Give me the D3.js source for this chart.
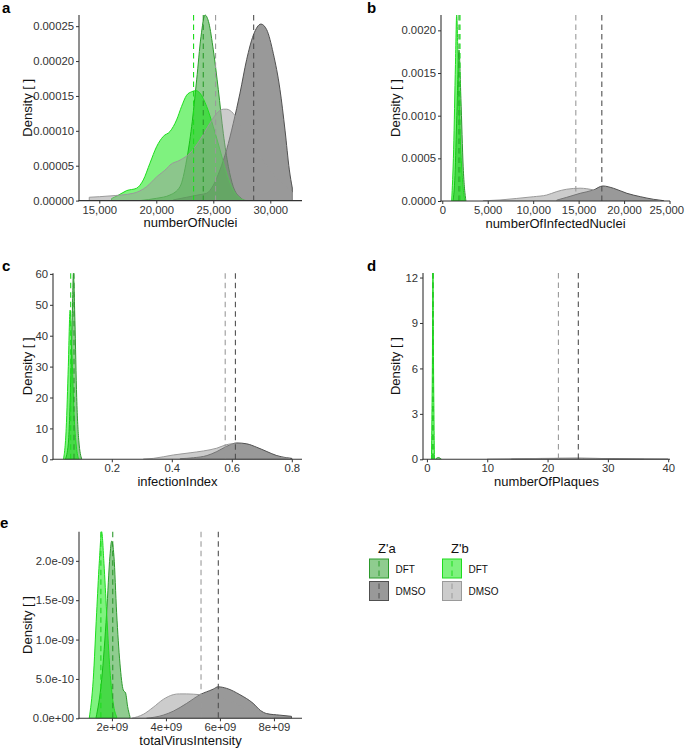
<!DOCTYPE html>
<html><head><meta charset="utf-8">
<script src="https://cdn.jsdelivr.net/npm/d3@7"></script>
<style>
html,body{margin:0;padding:0;background:#fff;}
svg{display:block;font-family:"Liberation Sans",Arial,Helvetica,sans-serif;}
</style></head>
<body><svg id="c" width="685" height="749"></svg>
<script>
// ---------- DATA ----------
const groups = ["Z'a DFT", "Z'a DMSO", "Z'b DFT", "Z'b DMSO"];
const legendScreens = ["Z'a", "Z'b"];
const legendTreatments = ["DFT", "DMSO"];

// panel a: numberOfNuclei  [value, density]
const nuclei_ZaDFT = [[18570,0],[20030,3.3e-6],[21200,8e-6],[22080,2.0e-5],[22660,5.8e-5],[23100,1.06e-4],[23540,1.73e-4],[23920,2.35e-4],[24270,2.66e-4],[24620,2.54e-4],[25000,2.16e-4],[25440,1.59e-4],[25880,9.6e-5],[26320,4.9e-5],[26750,2.0e-5],[27340,4.8e-6],[27780,0]];
const nuclei_ZaDMSO = [[21490,1e-6],[22660,4.8e-6],[23830,8.6e-6],[24415,1.05e-5],[25000,2.2e-5],[25585,4.4e-5],[26170,7.3e-5],[26755,1.11e-4],[27340,1.54e-4],[27925,2.02e-4],[28510,2.37e-4],[29180,2.53e-4],[29680,2.45e-4],[30260,2.11e-4],[30850,1.59e-4],[31290,1.01e-4],[31670,4.4e-5],[31930,1.8e-5]];
const nuclei_ZbDFT = [[16080,3e-6],[16600,7e-6],[17400,1.43e-5],[18270,1.77e-5],[18860,2.96e-5],[19440,5.35e-5],[20030,7.74e-5],[20610,9.2e-5],[21200,9.9e-5],[21780,1.156e-4],[22220,1.35e-4],[22660,1.51e-4],[23100,1.56e-4],[23480,1.576e-4],[23830,1.54e-4],[24415,1.35e-4],[25000,1.06e-4],[25590,7.26e-5],[26170,3.9e-5],[26750,1.5e-5],[27340,3.3e-6],[27920,0]];
const nuclei_ZbDMSO = [[14120,4.8e-6],[15940,6.7e-6],[17980,1.05e-5],[19150,2.0e-5],[20030,3.4e-5],[20910,4.6e-5],[21200,5.1e-5],[22080,5.8e-5],[22950,6.8e-5],[23830,8.7e-5],[24710,1.11e-4],[25290,1.25e-4],[25880,1.31e-4],[26170,1.31e-4],[26750,1.25e-4],[27340,1.11e-4],[28220,8.7e-5],[29090,6.3e-5],[29970,4.4e-5],[30850,2.7e-5],[31730,1.5e-5],[31930,1.15e-5]];
const nuclei_means = [24120, 28540, 23270, 25200];

// panel b: numberOfInfectedNuclei
const infected_ZaDFT = [[1180,0],[1400,3e-4],[1600,1.0e-3],[1840,1.77e-3],[2050,1.2e-3],[2300,4e-4],[2600,0]];
const infected_ZaDMSO = [[12590,1e-5],[13690,4.3e-5],[15160,9e-5],[16630,1.29e-4],[17660,1.76e-4],[18840,1.49e-4],[20310,9e-5],[21780,5.1e-5],[23250,1.95e-5],[24350,4e-6]];
const infected_ZbDFT = [[1035,0],[1250,6e-4],[1450,1.6e-3],[1585,2.18e-3],[1750,1.6e-3],[2000,7e-4],[2300,1.5e-4],[2500,0]];
const infected_ZbDMSO = [[4500,2e-6],[6350,1.2e-5],[8190,3e-5],[10020,5e-5],[11490,7e-5],[12590,1.1e-4],[13690,1.38e-4],[15160,1.5e-4],[16630,1.3e-4],[18100,9e-5],[19570,5.9e-5],[21040,3e-5],[22510,1.2e-5],[23980,4e-6]];
const infected_means = [1840, 17550, 1950, 14690];

// panel c: infectionIndex
const index_ZaDFT = [[0.045,0],[0.055,5],[0.063,25],[0.068,45],[0.072,60.2],[0.077,45],[0.083,20],[0.09,6],[0.1,0]];
const index_ZaDMSO = [[0.428,0.2],[0.472,0.5],[0.517,1.2],[0.55,2.5],[0.583,4.2],[0.617,5.3],[0.65,5.0],[0.683,3.9],[0.717,2.5],[0.75,1.2],[0.783,0.5],[0.8,0.3]];
const index_ZbDFT = [[0.039,0],[0.048,10],[0.055,30],[0.061,48.3],[0.067,35],[0.074,15],[0.082,4],[0.09,0]];
const index_ZbDMSO = [[0.305,0.05],[0.339,0.3],[0.405,1.4],[0.461,2.1],[0.505,2.7],[0.55,3.6],[0.578,4.6],[0.6,5.0],[0.628,4.6],[0.672,3.0],[0.717,1.4],[0.761,0.6],[0.794,0.2]];
const index_means = [0.074, 0.612, 0.063, 0.578];

// panel d: numberOfPlaques
const plaques_ZaDFT = [[1.4,0],[1.9,0.12],[2.4,0]];
const plaques_ZaDMSO = [[14,0.005],[18,0.03],[22,0.06],[25,0.075],[28,0.06],[32,0.03],[36,0.01],[40,0.003]];
const plaques_ZbDFT = [[0.75,0],[0.9,6],[1.0,12.3],[1.1,6],[1.25,0]];
const plaques_ZbDMSO = [[10,0.005],[15,0.03],[19,0.06],[22,0.07],[26,0.05],[31,0.02],[36,0.003]];
const plaques_means = [1.0, 25.1, 1.0, 21.8];

// panel e: totalVirusIntensity
const intensity_ZaDFT = [[1.407e9,0],[1.619e9,0.49e-9],[1.804e9,1.34e-9],[1.926e9,2.06e-9],[1.989e9,2.25e-9],[2.074e9,2.06e-9],[2.174e9,1.34e-9],[2.296e9,0.7e-9],[2.419e9,0.36e-9],[2.507e9,0.32e-9],[2.581e9,0.15e-9],[2.667e9,0.02e-9]];
const intensity_ZaDMSO = [[3.28e9,0],[3.9e9,0.04e-9],[4.27e9,0.09e-9],[4.77e9,0.19e-9],[5.26e9,0.30e-9],[5.75e9,0.37e-9],[5.93e9,0.40e-9],[6.25e9,0.38e-9],[6.74e9,0.30e-9],[7.23e9,0.19e-9],[7.5e9,0.10e-9],[7.73e9,0.06e-9],[8.22e9,0.04e-9],[8.65e9,0.025e-9]];
const intensity_ZbDFT = [[1.159e9,0],[1.307e9,0.49e-9],[1.433e9,1.34e-9],[1.53e9,1.97e-9],[1.619e9,2.37e-9],[1.704e9,1.97e-9],[1.804e9,1.34e-9],[1.926e9,0.61e-9],[2.048e9,0.19e-9],[2.174e9,0.02e-9]];
const intensity_ZbDMSO = [[2.73e9,0],[3.16e9,0.05e-9],[3.53e9,0.14e-9],[3.9e9,0.24e-9],[4.27e9,0.30e-9],[4.5e9,0.31e-9],[4.77e9,0.31e-9],[5.26e9,0.30e-9],[5.75e9,0.29e-9],[6.25e9,0.24e-9],[6.74e9,0.16e-9],[7.23e9,0.07e-9],[7.73e9,0.02e-9],[8.0e9,0.005e-9]];
const intensity_means = [2.03e9, 5.94e9, 1.59e9, 5.30e9];

// axis limits and ticks
const nuclei_xlim = [13220, 32780], nuclei_ylim = [0, 0.000266];
const nuclei_xticks = [15000, 20000, 25000, 30000];
const nuclei_yticks = [0, 0.00005, 0.0001, 0.00015, 0.0002, 0.00025];
const infected_xlim = [-140, 25050], infected_ylim = [0, 0.00218];
const infected_xticks = [0, 5000, 10000, 15000, 20000, 25000];
const infected_yticks = [0, 0.0005, 0.001, 0.0015, 0.002];
const index_xlim = [0.004, 0.834], index_ylim = [0, 60.2];
const index_xticks = [0.2, 0.4, 0.6, 0.8];
const index_yticks = [0, 10, 20, 30, 40, 50, 60];
const plaques_xlim = [-0.65, 40.3], plaques_ylim = [0, 12.3];
const plaques_xticks = [0, 10, 20, 30, 40];
const plaques_yticks = [0, 3, 6, 9, 12];
const intensity_xlim = [0.78e9, 9.04e9], intensity_ylim = [0, 2.37e-9];
const intensity_xticks = [2e9, 4e9, 6e9, 8e9];
const intensity_yticks = [0, 5e-10, 1e-9, 1.5e-9, 2e-9];
const intensity_xlabels = ["2e+09", "4e+09", "6e+09", "8e+09"];
const intensity_ylabels = ["0.0e+00", "5.0e-10", "1.0e-09", "1.5e-09", "2.0e-09"];

// ---------- STYLE / LAYOUT ----------
const colors = ["#1f9a1f", "#333333", "#00e600", "#999999"];
const strokes = ["#2c9a2c", "#505050", "#1edc1e", "#9a9a9a"];
const fmtComma = d3.format(",");
const panels = [
  {tag:"a", title:"numberOfNuclei", series:[nuclei_ZaDFT,nuclei_ZaDMSO,nuclei_ZbDFT,nuclei_ZbDMSO], means:nuclei_means,
   xlim:nuclei_xlim, ylim:nuclei_ylim, xt:nuclei_xticks, yt:nuclei_yticks, xf:fmtComma, yf:d3.format(".5f"),
   box:[79,302,15,200.6], tagPos:[2,13], ytx:27},
  {tag:"b", title:"numberOfInfectedNuclei", series:[infected_ZaDFT,infected_ZaDMSO,infected_ZbDFT,infected_ZbDMSO], means:infected_means,
   xlim:infected_xlim, ylim:infected_ylim, xt:infected_xticks, yt:infected_yticks, xf:fmtComma, yf:d3.format(".4f"),
   box:[441,670,15,201], tagPos:[367,13], ytx:395},
  {tag:"c", title:"infectionIndex", series:[index_ZaDFT,index_ZaDMSO,index_ZbDFT,index_ZbDMSO], means:index_means,
   xlim:index_xlim, ylim:index_ylim, xt:index_xticks, yt:index_yticks, xf:d3.format(".1f"), yf:d3.format("d"),
   box:[53,302,273.3,459.3], tagPos:[2,271], ytx:27},
  {tag:"d", title:"numberOfPlaques", series:[plaques_ZaDFT,plaques_ZaDMSO,plaques_ZbDFT,plaques_ZbDMSO], means:plaques_means,
   xlim:plaques_xlim, ylim:plaques_ylim, xt:plaques_xticks, yt:plaques_yticks, xf:d3.format("d"), yf:d3.format("d"),
   box:[423,670,273,459.3], tagPos:[367,271], ytx:395},
  {tag:"e", title:"totalVirusIntensity", series:[intensity_ZaDFT,intensity_ZaDMSO,intensity_ZbDFT,intensity_ZbDMSO], means:intensity_means,
   xlim:intensity_xlim, ylim:intensity_ylim, xt:intensity_xticks, yt:intensity_yticks,
   xf:(d,i)=>intensity_xlabels[i], yf:(d,i)=>intensity_ylabels[i],
   box:[79,302,531.7,718.3], tagPos:[0,528], ytx:27}
];
const drawOrder = [0,1,2,3];

const svg = d3.select("#c");
const defs = svg.append("defs");

panels.forEach((p, pi) => {
  const [L,R,T,B] = p.box;
  const x = d3.scaleLinear().domain(p.xlim).range([L,R]);
  const y = d3.scaleLinear().domain(p.ylim).range([B,T]);
  const g = svg.append("g");
  defs.append("clipPath").attr("id","clip"+pi).append("rect")
    .attr("x",L).attr("y",T-1).attr("width",R-L).attr("height",B-T+1);
  const plot = g.append("g").attr("clip-path","url(#clip"+pi+")");
  const area = d3.area().x(d=>x(d[0])).y0(y(0)).y1(d=>y(d[1])).curve(d3.curveMonotoneX);
  drawOrder.forEach(k => {
    plot.append("path").datum(p.series[k]).attr("d", area)
      .attr("fill", colors[k]).attr("fill-opacity", 0.5)
      .attr("stroke", strokes[k]).attr("stroke-width", 1);
  });
  drawOrder.forEach(k => {
    plot.append("line").attr("x1", x(p.means[k])).attr("x2", x(p.means[k]))
      .attr("y1", T).attr("y2", B)
      .attr("stroke", strokes[k]).attr("stroke-width", 1.1).attr("stroke-dasharray", "5.5,4");
  });
  // axes
  const xa = g.append("g").attr("transform", `translate(0,${B})`)
    .call(d3.axisBottom(x).tickValues(p.xt).tickFormat(p.xf).tickSizeInner(3).tickSizeOuter(0).tickPadding(2));
  const ya = g.append("g").attr("transform", `translate(${L},0)`)
    .call(d3.axisLeft(y).tickValues(p.yt).tickFormat(p.yf).tickSizeInner(3).tickSizeOuter(0).tickPadding(2));
  [xa, ya].forEach(a => {
    a.select(".domain").remove();
    a.selectAll(".tick line").attr("stroke", "#333").attr("stroke-width", 1);
    a.selectAll(".tick text").attr("fill", "#333").style("font-size", "11.3px").style("font-family", '"Liberation Sans",Arial,sans-serif');
  });
  // keep right-most x label inside the page
  xa.selectAll(".tick text").each(function(){
    const bb = this.getBBox(); const ctm = this.getCTM();
    const right = ctm.e + bb.x + bb.width;
    if (right > 684) d3.select(this).attr("dx", (684 - right) + "px");
  });
  g.append("line").attr("x1",L).attr("x2",L).attr("y1",T).attr("y2",B+0.5).attr("stroke","#333").attr("stroke-width",1.1);
  g.append("line").attr("x1",L-0.5).attr("x2",R).attr("y1",B).attr("y2",B).attr("stroke","#333").attr("stroke-width",1.1);
  // titles
  g.append("text").attr("x", (L+R)/2).attr("y", B+26.5).attr("text-anchor","middle")
    .attr("fill","#111").style("font-size","13px").text(p.title);
  g.append("text").attr("transform", `translate(${p.ytx+5},${(T+B)/2}) rotate(-90)`).attr("text-anchor","middle")
    .attr("fill","#111").style("font-size","13px").text("Density [ ]");
  g.append("text").attr("x", p.tagPos[0]).attr("y", p.tagPos[1]).attr("fill","#000")
    .style("font-size","15px").style("font-weight","bold").text(p.tag);
});

// legend
const lg = svg.append("g");
legendScreens.forEach((s, si) => {
  const x0 = [369.5, 442.5][si];
  lg.append("text").attr("x", x0+8.5).attr("y", 553).attr("fill","#111").style("font-size","13px").text(s);
  legendTreatments.forEach((t, ti) => {
    const k = si*2 + ti;
    const y0 = 559 + ti*22.5;
    lg.append("rect").attr("x", x0).attr("y", y0).attr("width", 19).attr("height", 19)
      .attr("fill", colors[k]).attr("fill-opacity", 0.5).attr("stroke", strokes[k]).attr("stroke-width", 1);
    lg.append("line").attr("x1", x0+9.5).attr("x2", x0+9.5).attr("y1", y0).attr("y2", y0+19)
      .attr("stroke", strokes[k]).attr("stroke-width", 1).attr("stroke-dasharray", "5.5,4").attr("stroke-dashoffset", -2);
    lg.append("text").attr("x", x0+26).attr("y", y0+13.5).attr("fill","#111").style("font-size","10px").text(t);
  });
});
</script></body></html>
